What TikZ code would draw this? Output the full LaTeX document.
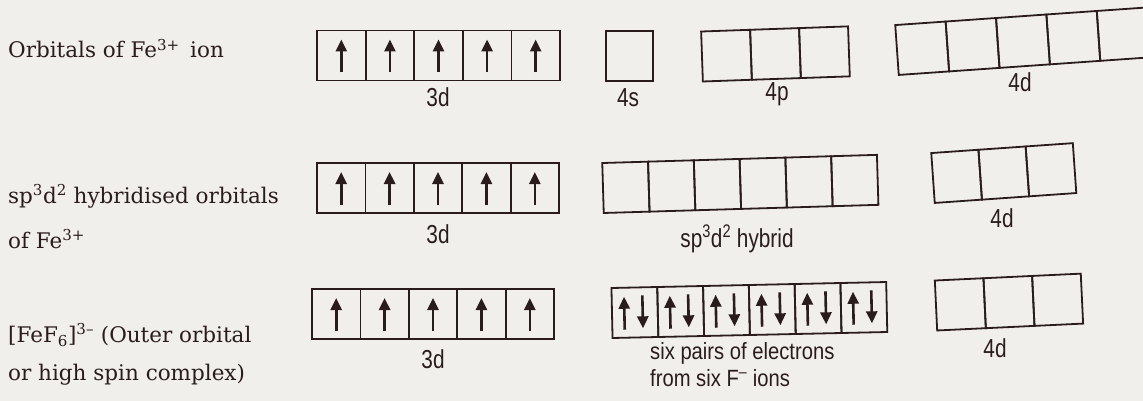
\documentclass[tikz,border=0pt]{standalone}
\usepackage{fontspec}
\setmainfont{DejaVu Serif}
\newfontfamily\orbfont[FakeStretch=0.8]{Liberation Sans}
\newfontfamily\orbwide[FakeStretch=0.86]{Liberation Sans}
\usetikzlibrary{arrows.meta,calc}
\definecolor{ink}{RGB}{42,28,28}
\definecolor{paper}{RGB}{240,239,236}
\tikzset{
  orb/.style={draw=ink, line width=1.8pt, minimum width=#1, minimum height=50pt, inner sep=0pt, outer sep=0pt},
  spinup/.style={draw=ink, line width=2.6pt, -{Triangle[length=12pt,width=11pt]}, shorten <=8pt, shorten >=9pt},
  lab/.style={font=\fontsize{21.5}{24}\selectfont, text=ink, anchor=base west, inner sep=0pt},
  olab/.style={font=\orbfont\fontsize{26}{29}\selectfont, text=ink, anchor=base, inner sep=0pt},
}
\begin{document}
\begin{tikzpicture}[x=1pt,y=-1pt]
\useasboundingbox (0,0) rectangle (1143,401);
\clip (0,0) rectangle (1143,401);
\fill[paper] (0,0) rectangle (1143,401);

% ---------- Row 1 ----------
\node[lab] (l1) at (8,58) {Orbitals of Fe\textsuperscript{3+}\, ion};
\foreach \i in {0,...,4}{
  \node[orb=48.6pt] (ra\i) at ({341.3+\i*48.6},55.5) {};
  \draw[spinup] (ra\i.south) -- (ra\i.north);
}
\node[olab] (t3d1) at (438,107) {3d};
\node[orb=47pt] (rs) at (629.5,56) {};
\node[olab] (t4s) at (628,107) {4s};
\begin{scope}[rotate around={2:(702,56.5)}, transform shape]
  \foreach \i in {0,...,2}{
    \node[orb=49pt] (rb\i) at ({726.5+\i*49},56.5) {};
  }
\end{scope}
\node[olab] (t4p) at (777,101) {4p};
\begin{scope}[rotate around={4:(897,50)}, transform shape]
  \foreach \i in {0,...,4}{
    \node[orb=50.5pt] (rc\i) at ({922.25+\i*50.5},50) {};
  }
\end{scope}
\node[olab] (t4d1) at (1020,92) {4d};

% ---------- Row 2 ----------
\node[lab] (l2a) at (8,203) {sp\textsuperscript{3}d\textsuperscript{2} hybridised orbitals};
\node[lab] (l2b) at (8,248) {of Fe\textsuperscript{3+}};
\foreach \i in {0,...,4}{
  \node[orb=48.4pt] (sa\i) at ({341.2+\i*48.4},188) {};
  \draw[spinup] (sa\i.south) -- (sa\i.north);
}
\node[olab] (t3d2) at (438,243) {3d};
\begin{scope}[rotate around={1.7:(603,188)}, transform shape]
  \foreach \i in {0,...,5}{
    \node[orb=45.8pt] (sb\i) at ({625.9+\i*45.8},188) {};
  }
\end{scope}
\node[olab] (thyb) at (737,247) {sp\textsuperscript{3}d\textsuperscript{2} hybrid};
\begin{scope}[rotate around={4:(933,178)}, transform shape]
  \foreach \i in {0,...,2}{
    \node[orb=47.3pt] (sc\i) at ({956.65+\i*47.3},178) {};
  }
\end{scope}
\node[olab] (t4d2) at (1002,227) {4d};

% ---------- Row 3 ----------
\node[lab] (l3a) at (8,342) {[FeF\textsubscript{6}]\textsuperscript{3–} (Outer orbital};
\node[lab] (l3b) at (8,380) {or high spin complex)};
\foreach \i in {0,...,4}{
  \node[orb=48.4pt] (ta\i) at ({336.2+\i*48.4},314) {};
  \draw[spinup] (ta\i.south) -- (ta\i.north);
}
\node[olab] (t3d3) at (433,368) {3d};
\begin{scope}[rotate around={1.25:(612,313)}, transform shape]
  \foreach \i in {0,...,5}{
    \node[orb=45.8pt] (tb\i) at ({634.9+\i*45.8},313) {};
  }
\end{scope}
\foreach \i in {0,...,5}{
  \draw[spinup] ($(tb\i.south west)!0.27!(tb\i.south east)$) -- ($(tb\i.north west)!0.27!(tb\i.north east)$);
  \draw[spinup] ($(tb\i.north west)!0.67!(tb\i.north east)$) -- ($(tb\i.south west)!0.67!(tb\i.south east)$);
}
\node[olab, anchor=north west, align=left, font=\orbwide\fontsize{23.5}{27}\selectfont] (tsix) at (650,342)
  {six pairs of electrons\\from six F\textsuperscript{–} ions};
\begin{scope}[rotate around={2.7:(936,305.5)}, transform shape]
  \foreach \i in {0,...,2}{
    \node[orb=48.7pt] (tc\i) at ({960.35+\i*48.7},305.5) {};
  }
\end{scope}
\node[olab] (t4d3) at (995,357) {4d};
\end{tikzpicture}
\end{document}
